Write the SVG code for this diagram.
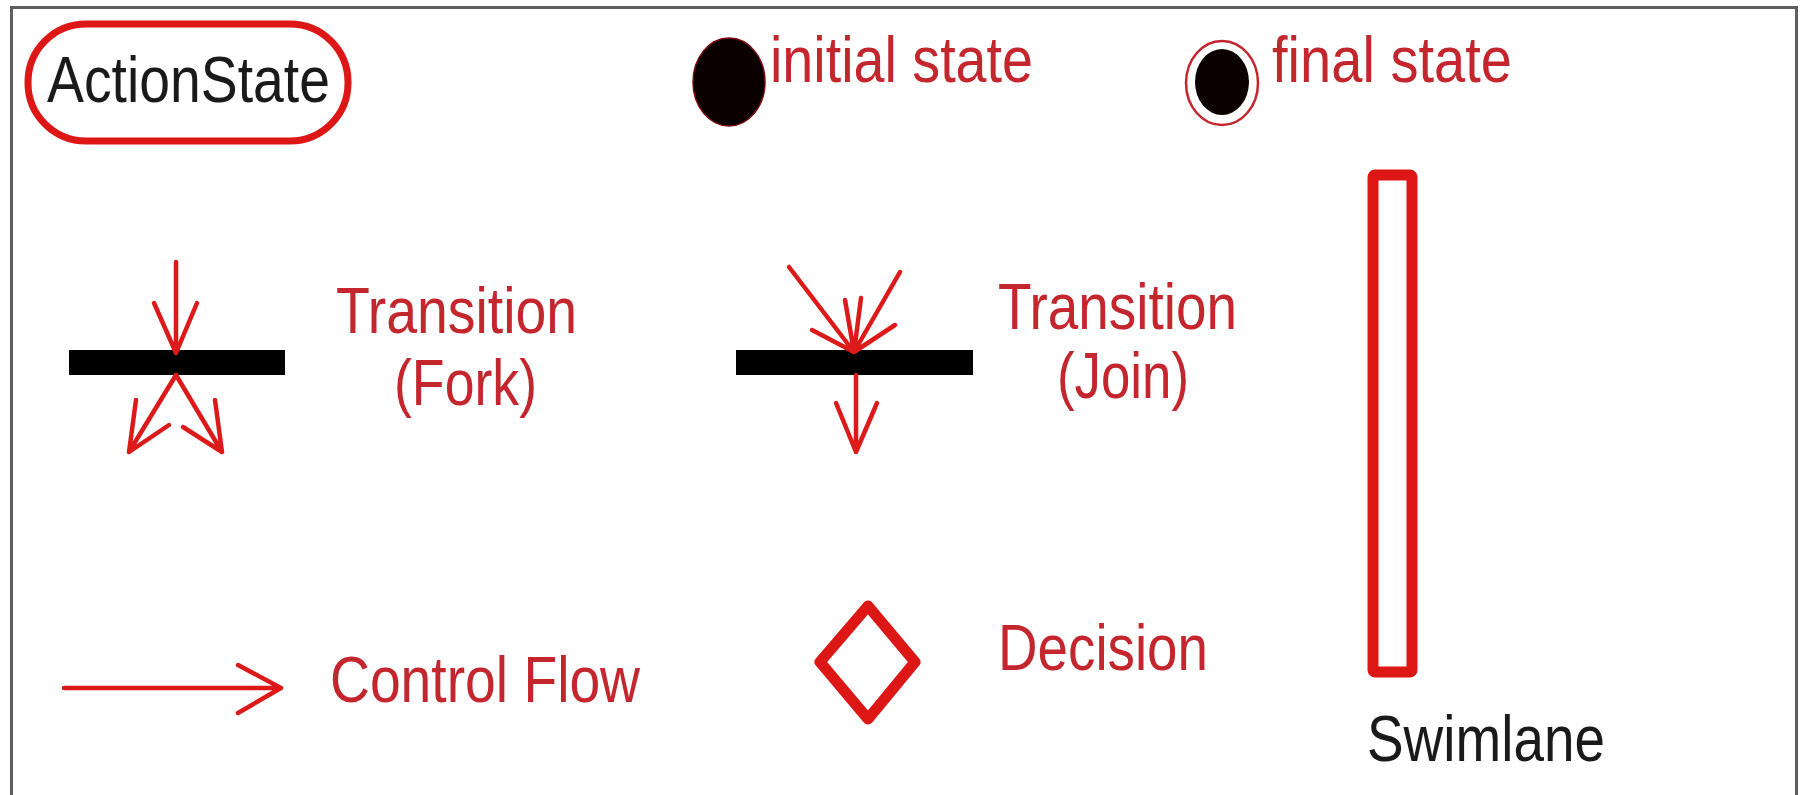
<svg xmlns="http://www.w3.org/2000/svg" width="1804" height="795" viewBox="0 0 1804 795">
  <style>
    .lbl { font-family: "Liberation Sans", Arial, sans-serif; font-size: 64px; }
    .red { fill: #c4262e; }
    .blk { fill: #1a1a1a; }
    .shape { fill: none; stroke: #dd1616; stroke-linejoin: round; stroke-linecap: round; }
    .flow { fill: none; stroke: #dd1a1a; stroke-width: 4.5; stroke-linecap: round; stroke-linejoin: round; }
    .bar { fill: #000; }
  </style>

  <rect width="1804" height="795" fill="#ffffff"/>
  <!-- frame, open at the bottom -->
  <path d="M11.5,795 V7.5 H1796.5 V795" fill="none" stroke="#5e5e5e" stroke-width="3"/>

  <g id="action-state">
    <rect class="shape" x="28" y="24" width="320" height="117" rx="58" ry="58" stroke-width="7"/>
    <text class="lbl blk" x="47" y="102" textLength="283" lengthAdjust="spacingAndGlyphs">ActionState</text>
  </g>

  <g id="initial-state">
    <ellipse cx="729" cy="82" rx="36" ry="44" fill="#0a0000" stroke="#7a0a0a" stroke-width="1.5"/>
    <text class="lbl red" x="770" y="82" textLength="263" lengthAdjust="spacingAndGlyphs">initial state</text>
  </g>

  <g id="final-state">
    <ellipse cx="1222" cy="83" rx="36" ry="42" fill="none" stroke="#c4262e" stroke-width="2.5"/>
    <ellipse cx="1222" cy="82" rx="27" ry="33" fill="#0a0000"/>
    <text class="lbl red" x="1272" y="82" textLength="240" lengthAdjust="spacingAndGlyphs">final state</text>
  </g>

  <g id="fork">
    <rect class="bar" x="69" y="350" width="216" height="25"/>
    <text class="lbl red" x="336" y="333" textLength="241" lengthAdjust="spacingAndGlyphs">Transition</text>
    <text class="lbl red" x="394" y="405" textLength="143" lengthAdjust="spacingAndGlyphs">(Fork)</text>
  </g>

  <g id="join">
    <rect class="bar" x="736" y="350" width="237" height="25"/>
    <text class="lbl red" x="998" y="329" textLength="239" lengthAdjust="spacingAndGlyphs">Transition</text>
    <text class="lbl red" x="1057" y="398" textLength="132" lengthAdjust="spacingAndGlyphs">(Join)</text>
  </g>

  <g id="control-flow">
    <text class="lbl red" x="330" y="702" textLength="310" lengthAdjust="spacingAndGlyphs">Control Flow</text>
  </g>

  <g id="decision">
    <polygon class="shape" points="868,606 915,662 868,719 820,662" stroke-width="11"/>
    <text class="lbl red" x="998" y="670" textLength="210" lengthAdjust="spacingAndGlyphs">Decision</text>
  </g>

  <g id="swimlane">
    <rect class="shape" x="1373" y="175" width="39" height="497" rx="2" stroke-width="11"/>
    <text class="lbl blk" x="1367" y="761" textLength="238" lengthAdjust="spacingAndGlyphs">Swimlane</text>
  </g>

  <g id="connectors">
    <!-- fork: one in, two out -->
    <path class="flow" d="M176,262 V353 M154,303 L176,353 L197,303"/>
    <path class="flow" d="M176,375 L129,452 M136,400 L129,452 L169,425"/>
    <path class="flow" d="M176,375 L222,452 M183,427 L222,452 L215,400"/>
    <!-- join: several in, one out -->
    <path class="flow" d="M789,267 L854,352 M900,272 L854,352 M845,300 L854,352 L861,298 M812,330 L854,352 L895,325"/>
    <path class="flow" d="M856,375 V452 M836,403 L856,452 L877,403"/>
    <!-- control flow arrow -->
    <path class="flow" d="M64,688 H281 M238,665 L281,688 L238,713"/>
  </g>
</svg>
